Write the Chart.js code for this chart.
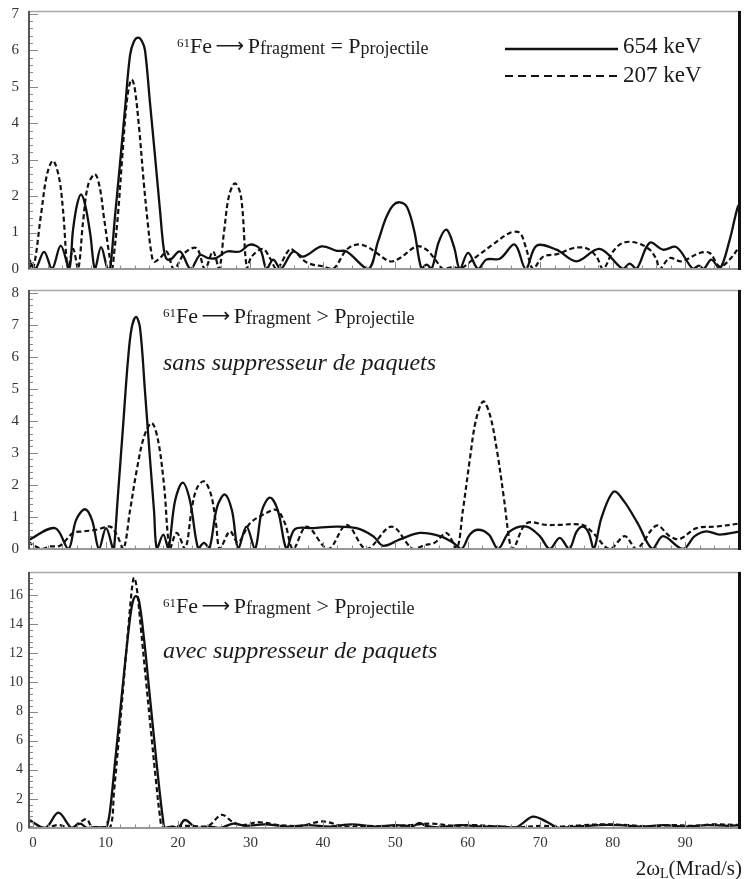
<!DOCTYPE html>
<html>
<head>
<meta charset="utf-8">
<script src="https://cdn.jsdelivr.net/npm/chart.js@4.4.1/dist/chart.umd.min.js"></script>
<style>
  body { margin: 0; background: #fff; }
  #wrap { position: relative; width: 744px; height: 879px; }
  canvas { position: absolute; left: 0; }
</style>
</head>
<body>
<div id="wrap">
  <canvas id="panel1" width="744" height="280" style="top:0px"></canvas>
  <canvas id="panel2" width="744" height="280" style="top:280px"></canvas>
  <canvas id="panel3" width="744" height="319" style="top:560px"></canvas>
</div>
<script>
// Axis ticks and ranges
const xTicks = [0, 10, 20, 30, 40, 50, 60, 70, 80, 90];
const xMin = -0.7;
const xMax = 97.7;
const yTicks1 = [0, 1, 2, 3, 4, 5, 6, 7];
const yTicks2 = [0, 1, 2, 3, 4, 5, 6, 7, 8];
const yTicks3 = [0, 2, 4, 6, 8, 10, 12, 14, 16];
const seriesNames = ['654 keV', '207 keV'];

// Panel 1 : Pfragment = Pprojectile
const p1SolidX = [-0.69, 0.28, 1.52, 2.62, 3.82, 4.97, 5.5, 6.05, 6.62, 7.2, 7.9, 8.55, 9.38,
  10.28, 10.62, 11.31, 12.0, 12.69, 13.38, 13.93, 14.52, 15.03, 15.45, 16.14, 16.83, 17.52,
  17.97, 18.34, 18.9, 20.28, 21.75, 23.03, 24.14, 25.24, 26.76, 28.55, 29.93, 31.31, 32.23,
  33.14, 34.17, 35.9, 37.28, 39.82, 41.89, 43.27, 46.25, 47.6, 48.7, 49.7, 50.62, 51.6, 52.6,
  53.61, 54.3, 54.99, 56.0, 57.06, 58.1, 58.9, 60.04, 61.42, 62.58, 64.41, 66.48, 68.0,
  69.48, 72.23, 74.99, 78.21, 81.42, 82.34, 83.27, 85.1, 86.94, 88.79, 91.08, 91.9, 92.55,
  93.61, 94.76, 96.14, 97.28, 97.66];
const p1SolidY = [0.32, 0, 0.47, 0, 0.64, 0, 1.05, 1.75, 2.05, 1.75, 0.95, 0, 0.6,
  0, 0, 1.45, 2.9, 4.4, 5.86, 6.25, 6.35, 6.25, 6.0, 4.55, 3.1, 1.6,
  0.65, 0.3, 0.25, 0.48, 0, 0.38, 0.3, 0.3, 0.48, 0.48, 0.67, 0.55, 0,
  0.26, 0, 0.48, 0.34, 0.62, 0.5, 0.48, 0, 0.75, 1.4, 1.75, 1.83, 1.7, 1.05,
  0, 0.12, 0, 0.75, 1.08, 0.6, 0, 0.44, 0, 0.26, 0.28, 0.67, 0,
  0.64, 0.53, 0.21, 0.55, 0, 0.15, 0, 0.72, 0.53, 0.6, 0, 0.09, 0,
  0.26, 0, 0.8, 1.72, 1.75];
const p1DashX = [-0.69, 0, 1.1, 1.93, 2.76, 3.59, 4.14, 4.83, 5.52, 6.21, 6.9, 7.59, 8.55,
  9.24, 9.79, 10.9, 11.17, 11.72, 12.28, 12.83, 13.24, 13.61, 14.0, 14.62, 15.31, 15.86,
  16.28, 16.69, 17.52, 18.44, 19.45, 20.97, 22.58, 23.72, 24.83, 25.66, 26.34, 27.03, 27.86,
  28.69, 29.52, 30.17, 31.72, 32.69, 33.61, 35.45, 36.28, 37.52, 38.9, 39.59, 41.38, 43.27,
  44.65, 46.03, 47.41, 49.24, 50.62, 52.92, 54.3, 55.68, 56.59, 57.97, 58.9, 61.2, 63.45,
  65.79, 67.17, 68.0, 69.01, 70.39, 72.41, 74.48, 76.37, 77.75, 78.66, 80.04, 81.42, 83.27,
  85.1, 86.03, 86.48, 87.86, 89.48, 92.0, 93.38, 94.76, 96.14, 97.66];
const p1DashY = [0.15, 0, 1.5, 2.6, 2.97, 2.5, 1.6, 0, 0.55, 0, 1.3, 2.3, 2.6,
  2.2, 1.4, 0, 0.4, 1.5, 3.0, 4.4, 5.0, 5.2, 5.0, 3.9, 2.3, 1.2,
  0.5, 0.2, 0.3, 0.48, 0, 0.45, 0.57, 0, 0.48, 0, 1.0, 2.0, 2.35,
  2.0, 0, 0.34, 0.55, 0.3, 0, 0.55, 0.45, 0.21, 0.1, 0.09, 0, 0.53,
  0.67, 0.62, 0.44, 0.21, 0.3, 0.62, 0.53, 0.21, 0, 0.05, 0, 0.34, 0.67,
  0.99, 0.99, 0.6, 0, 0.34, 0.41, 0.57, 0.57, 0.34, 0, 0.48, 0.72, 0.72,
  0.53, 0.26, 0, 0.3, 0.21, 0.44, 0.44, 0.07, 0.26, 0.67];

// Panel 2 : Pfragment > Pprojectile, sans suppresseur
const p2SolidX = [-0.69, 3.03, 4.87, 5.93, 7.17, 8.14, 9.1, 10.07, 11.03, 11.17, 11.72,
  12.41, 13.1, 13.61, 14.21, 14.76, 15.45, 16.14, 16.69, 17.1, 17.97, 18.66, 19.59, 20.65,
  21.66, 22.8, 23.59, 24.32, 25.38, 26.48, 27.45, 28.32, 29.45, 30.62, 31.59, 32.69, 33.79,
  35.0, 36.14, 38.62, 41.89, 44.65, 46.94, 48.32, 50.62, 53.38, 56.14, 57.93, 59.13, 60.28,
  61.42, 62.9, 64.18, 65.79, 68.1, 69.93, 71.31, 72.69, 73.97, 75.03, 75.9, 76.69, 77.38,
  78.48, 80.14, 81.52, 83.45, 85.48, 86.94, 89.7, 91.31, 92.92, 94.76, 97.66];
const p2SolidY = [0.27, 0.65, 0, 0.9, 1.24, 0.9, 0, 0.65, 0, 0, 1.7,
  3.8, 5.9, 6.9, 7.24, 6.9, 4.9, 2.8, 1.2, 0, 0.45, 0, 1.5, 2.07,
  1.5, 0, 0.19, 0, 1.3, 1.7, 1.2, 0, 0.7, 0, 1.2, 1.6, 1.2,
  0, 0.62, 0.65, 0.7, 0.65, 0.4, 0.1, 0.3, 0.5, 0.4, 0.2, 0, 0.45,
  0.6, 0.45, 0, 0.55, 0.7, 0.4, 0, 0.35, 0, 0.55, 0.7, 0.5, 0,
  1.0, 1.79, 1.5, 0.8, 0, 0.4, 0, 0.4, 0.55, 0.45, 0.55];
const p2DashX = [-0.69, 1.2, 2.34, 3.72, 5.52, 6.94, 8.79, 10.62, 11.54, 12.46, 13.38,
  14.34, 15.31, 16.37, 17.24, 18.07, 18.9, 19.82, 20.97, 21.93, 22.62, 23.59, 24.55, 25.24,
  25.79, 27.17, 28.28, 29.93, 32.0, 33.61, 34.76, 35.9, 37.75, 40.73, 43.27, 46.03, 49.48,
  52.41, 54.07, 55.45, 57.06, 58.44, 59.31, 60.28, 61.1, 62.11, 63.03, 64.0, 64.97, 65.79,
  66.25, 68.1, 70.86, 72.23, 75.9, 77.28, 79.59, 81.66, 83.27, 86.03, 87.86, 89.24, 91.55,
  94.3, 97.66];
const p2DashY = [0.22, 0, 0.08, 0.1, 0.5, 0.55, 0.6, 0.7, 0.45, 0, 1.2,
  2.5, 3.5, 3.93, 3.4, 2.0, 0, 0.5, 0, 1.3, 1.9, 2.11, 1.7, 0.8,
  0, 0.55, 0.2, 0.8, 1.1, 1.22, 0.8, 0, 0.7, 0, 0.75, 0, 0.7,
  0, 0.12, 0.2, 0.5, 0, 1.2, 2.8, 4.0, 4.6, 4.2, 3.1, 1.6, 0.2,
  0, 0.8, 0.75, 0.75, 0.75, 0.5, 0, 0.4, 0, 0.73, 0.4, 0.31, 0.65,
  0.7, 0.8];

// Panel 3 : Pfragment > Pprojectile, avec suppresseur
const p3SolidX = [-0.69, 1.66, 3.49, 5.34, 6.48, 7.45, 8.55, 9.79, 10.17, 10.62, 11.31,
  12.0, 12.69, 13.38, 13.79, 14.21, 14.62, 15.31, 16.0, 16.69, 17.38, 17.93, 18.21, 19.17,
  20.0, 20.97, 22.58, 24.41, 25.79, 27.63, 29.24, 32, 35, 38, 41, 44, 47, 50, 52.5, 53.3, 54.2,
  56, 59, 62, 65, 66.5, 67.5, 69, 71, 72.5, 75, 78, 81, 84, 87, 90, 93, 96, 97.66];
const p3SolidY = [0.6, 0, 1.05, 0, 0.3, 0, 0.05, 0.05, 0.1, 1.2, 4.5,
  7.9, 11.3, 14.4, 15.6, 15.93, 15.6, 13.0, 9.6, 6.2, 2.9, 0.6, 0, 0.1,
  0, 0.55, 0, 0.1, 0, 0.3, 0.15, 0.25, 0.1, 0.2, 0.1, 0.25, 0.1, 0.2, 0.15, 0.35, 0.15,
  0.05, 0.2, 0.1, 0.1, 0, 0.3, 0.78, 0.4, 0, 0.1, 0.2, 0.2, 0.1, 0.2, 0.1, 0.2, 0.15, 0.2];
const p3DashX = [-0.69, 1.66, 3.45, 5.24, 6.48, 7.41, 8.1, 9.24, 10.62, 11.17, 11.86,
  12.55, 13.24, 13.66, 13.93, 14.28, 14.9, 15.59, 16.28, 16.97, 17.52, 17.93, 19.59, 21.66,
  24.14, 26.03, 27.59, 29, 31, 34, 37, 40, 43, 46, 49, 52, 55, 58, 61, 64, 67, 70, 73, 76, 79,
  82, 85, 88, 91, 94, 97.66];
const p3DashY = [0.05, 0, 0.2, 0, 0.4, 0.6, 0.1, 0.05, 0, 2.5, 6.3,
  10.3, 14.3, 16.5, 17.2, 16.6, 13.6, 10.1, 6.6, 3.2, 0.8, 0, 0.1, 0.15,
  0.15, 0.9, 0.4, 0.2, 0.4, 0.2, 0.15, 0.45, 0.1, 0.15, 0.1, 0.2, 0.3, 0.15, 0.2, 0.1, 0.05,
  0.15, 0.1, 0.2, 0.25, 0.2, 0.1, 0.2, 0.15, 0.25, 0.2];

const serif = '"Liberation Serif", "Times New Roman", serif';

function pairs(xs, ys) {
  return xs.map((x, i) => ({ x: x, y: ys[i] }));
}

function fontOf(p) {
  return (p.italic ? 'italic ' : '') + p.size + 'px ' + (p.family || serif);
}

// write a run of text pieces one after another
function drawParts(ctx, x, y, parts) {
  parts.forEach(p => {
    ctx.font = fontOf(p);
    ctx.fillText(p.t, x, y + (p.dy || 0));
    x += ctx.measureText(p.t).width;
  });
  return x;
}

function measureParts(ctx, parts) {
  let w = 0;
  parts.forEach(p => {
    ctx.font = fontOf(p);
    w += ctx.measureText(p.t).width;
  });
  return w;
}

function reaction(sign) {
  return [
    { t: '61', size: 13, dy: -6 },
    { t: 'Fe', size: 22 },
    { t: ' ', size: 14 },
    { t: '\u27f6', size: 20, family: '"DejaVu Sans"', dy: -1 },
    { t: ' ', size: 14 },
    { t: 'P', size: 22 },
    { t: 'fragment', size: 18, dy: 1 },
    { t: ' ' + sign + ' ', size: 22 },
    { t: 'P', size: 22 },
    { t: 'projectile', size: 18, dy: 1 }
  ];
}

// ROOT-like frame with inward ticks
const rootFrame = {
  id: 'rootFrame',
  afterDraw(chart, args, opts) {
    const { ctx, chartArea: a, scales: { x, y } } = chart;
    ctx.save();
    ctx.strokeStyle = '#8a8a8a';
    ctx.lineWidth = 1;
    // y ticks
    const yMajor = opts.yTicks;
    const yStep = (yMajor[1] - yMajor[0]) / 5;
    for (let v = 0; v <= y.max + 1e-9; v += yStep) {
      const py = Math.round(y.getPixelForValue(v)) + 0.5;
      const isMajor = yMajor.some(t => Math.abs(t - v) < 1e-6);
      ctx.beginPath();
      ctx.moveTo(a.left, py);
      ctx.lineTo(a.left + (isMajor ? 10 : 5), py);
      ctx.stroke();
    }
    // x ticks
    for (let v = 0; v <= x.max; v += 2) {
      const px = Math.round(x.getPixelForValue(v)) + 0.5;
      const isMajor = xTicks.includes(Math.round(v));
      ctx.beginPath();
      ctx.moveTo(px, a.bottom);
      ctx.lineTo(px, a.bottom - (isMajor ? 7 : 3.5));
      ctx.stroke();
    }
    // frame
    ctx.lineWidth = 1.5;
    ctx.strokeStyle = '#a8a8a8';
    ctx.beginPath();
    ctx.moveTo(a.left, a.top + 0.5);
    ctx.lineTo(a.right, a.top + 0.5);
    ctx.stroke();
    ctx.lineWidth = 2;
    ctx.strokeStyle = '#999';
    ctx.beginPath();
    ctx.moveTo(a.left, a.bottom);
    ctx.lineTo(a.right, a.bottom);
    ctx.stroke();
    ctx.strokeStyle = '#555';
    ctx.beginPath();
    ctx.moveTo(a.left + 1, a.top);
    ctx.lineTo(a.left + 1, a.bottom);
    ctx.stroke();
    ctx.lineWidth = 3;
    ctx.strokeStyle = '#111';
    ctx.beginPath();
    ctx.moveTo(a.right - 1.5, a.top);
    ctx.lineTo(a.right - 1.5, a.bottom + 1);
    ctx.stroke();

    // texts
    ctx.fillStyle = '#1a1a1a';
    ctx.textBaseline = 'alphabetic';
    (opts.texts || []).forEach(tx => drawParts(ctx, tx.x, tx.y, tx.parts));

    // legend
    if (opts.legend) {
      const ds = chart.data.datasets;
      [49, 76].forEach((ly, i) => {
        ctx.strokeStyle = ds[i].borderColor;
        ctx.lineWidth = ds[i].borderWidth;
        ctx.setLineDash(i === 0 ? [] : [8, 5]);
        ctx.beginPath();
        ctx.moveTo(505, ly);
        ctx.lineTo(618, ly);
        ctx.stroke();
        ctx.setLineDash([]);
        drawParts(ctx, 623, ly + (i === 0 ? 4 : 6), [{ t: ds[i].label, size: 23 }]);
      });
    }

    // x axis title
    if (opts.xTitle) {
      const parts = [
        { t: '2\u03c9', size: 21 },
        { t: 'L', size: 14, dy: 3 },
        { t: '(Mrad/s)', size: 21 }
      ];
      const w = measureParts(ctx, parts);
      drawParts(ctx, 742 - w, opts.xTitle, parts);
    }
    ctx.restore();
  }
};

function makePanel(id, cfg) {
  return new Chart(document.getElementById(id), {
    type: 'line',
    data: {
      datasets: [
        {
          label: seriesNames[0],
          data: pairs(cfg.solidX, cfg.solidY),
          borderColor: '#111',
          borderWidth: 2.3,
          tension: 0.35,
          pointRadius: 0,
          fill: false
        },
        {
          label: seriesNames[1],
          data: pairs(cfg.dashX, cfg.dashY),
          borderColor: '#111',
          borderWidth: 2.2,
          borderDash: [5, 3],
          tension: 0.35,
          pointRadius: 0,
          fill: false
        }
      ]
    },
    options: {
      responsive: false,
      animation: false,
      events: [],
      layout: { padding: { top: cfg.padTop, right: 3, left: 0, bottom: 0 } },
      scales: {
        x: {
          type: 'linear',
          min: xMin,
          max: xMax,
          afterBuildTicks: s => { s.ticks = xTicks.map(v => ({ value: v })); },
          afterFit: s => {
            s.height = cfg.xHeight;
            s.paddingLeft = 0;
            s.paddingRight = 0;
          },
          ticks: {
            display: cfg.showX,
            padding: 6,
            maxRotation: 0,
            color: '#333',
            font: { family: serif, size: 15 }
          },
          grid: { display: false, drawTicks: false },
          border: { display: false }
        },
        y: {
          min: 0,
          max: cfg.yMax,
          afterBuildTicks: s => { s.ticks = cfg.yTicks.map(v => ({ value: v })); },
          afterFit: s => {
            s.width = 28;
            s.paddingTop = 0;
            s.paddingBottom = 0;
          },
          ticks: {
            padding: cfg.yPad,
            color: '#333',
            font: { family: serif, size: cfg.yFont }
          },
          grid: { display: false, drawTicks: false },
          border: { display: false }
        }
      },
      plugins: {
        legend: { display: false },
        tooltip: { enabled: false },
        rootFrame: {
          yTicks: cfg.yTicks,
          texts: cfg.texts,
          legend: cfg.legend,
          xTitle: cfg.xTitle
        }
      }
    },
    plugins: [rootFrame]
  });
}

makePanel('panel1', {
  solidX: p1SolidX, solidY: p1SolidY, dashX: p1DashX, dashY: p1DashY,
  yTicks: yTicks1, yMax: 7.08, padTop: 11, xHeight: 11, showX: false,
  yPad: 9, yFont: 15, legend: true,
  texts: [{ x: 177, y: 53, parts: reaction('=') }]
});

makePanel('panel2', {
  solidX: p2SolidX, solidY: p2SolidY, dashX: p2DashX, dashY: p2DashY,
  yTicks: yTicks2, yMax: 8.08, padTop: 10, xHeight: 11, showX: false,
  yPad: 9, yFont: 15,
  texts: [
    { x: 163, y: 43, parts: reaction('>') },
    { x: 163, y: 90, parts: [{ t: 'sans suppresseur de paquets', size: 24, italic: true }] }
  ]
});

makePanel('panel3', {
  solidX: p3SolidX, solidY: p3SolidY, dashX: p3DashX, dashY: p3DashY,
  yTicks: yTicks3, yMax: 17.58, padTop: 12, xHeight: 51, showX: true,
  yPad: 5, yFont: 14, xTitle: 315,
  texts: [
    { x: 163, y: 53, parts: reaction('>') },
    { x: 163, y: 98, parts: [{ t: 'avec suppresseur de paquets', size: 24, italic: true }] }
  ]
});
</script>
</body>
</html>
